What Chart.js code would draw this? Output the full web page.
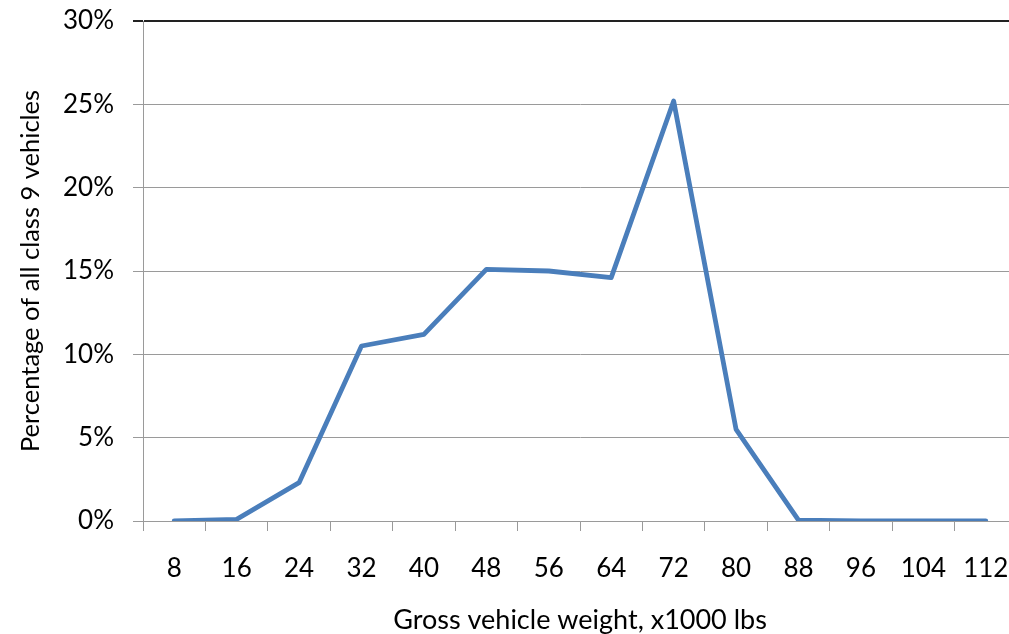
<!DOCTYPE html>
<html>
<head>
<meta charset="utf-8">
<script src="https://cdn.jsdelivr.net/npm/chart.js@4/dist/chart.umd.min.js"></script>
<style>
  html, body { margin: 0; padding: 0; background: #fff; overflow: hidden; }
  #wrap { width: 1017px; height: 634px; }
</style>
</head>
<body>
<div id="wrap"><canvas id="weightChart" width="1017" height="634"></canvas></div>
<script>
// gross vehicle weight bins (x1000 lbs)
const weights = ["8", "16", "24", "32", "40", "48", "56", "64", "72", "80", "88", "96", "104", "112"];
// share of all class 9 vehicles, percent
const shares = [0, 0.1, 2.3, 10.5, 11.2, 15.1, 15.0, 14.6, 25.2, 5.5, 0.05, 0, 0, 0];
const yTicks = [0, 5, 10, 15, 20, 25, 30];

const FONT = "Lato, 'Open Sans', sans-serif";

document.addEventListener("DOMContentLoaded", function() {
    const ctx = document.getElementById("weightChart").getContext('2d');

    new Chart(ctx, {
        type: 'line',
        data: {
            labels: weights,
            datasets: [{
                data: shares,
                borderColor: '#4a7ebb',
                borderWidth: 4.8,
                borderJoinStyle: 'round',
                borderCapStyle: 'round',
                pointRadius: 0,
                tension: 0,
                fill: false
            }]
        },
        options: {
            responsive: false,
            animation: false,
            layout: { padding: { top: 21, right: 0, left: 0, bottom: 0 } },
            plugins: {
                legend: { display: false },
                tooltip: { enabled: false }
            },
            scales: {
                x: {
                    offset: true,
                    grid: {
                        offset: true,
                        drawOnChartArea: false,
                        drawTicks: true,
                        tickLength: 10,
                        color: '#9a9a9a'
                    },
                    border: { display: true, color: '#9a9a9a' },
                    ticks: {
                        color: '#000',
                        font: { family: FONT, size: 26 },
                        padding: 22,
                        maxRotation: 0,
                        autoSkip: false
                    },
                    title: {
                        display: true,
                        text: 'Gross vehicle weight, x1000 lbs',
                        color: '#000',
                        font: { family: FONT, size: 27, lineHeight: 1 },
                        padding: { top: 0, bottom: 0 }
                    },
                    afterFit: function(scale) {
                        scale.height = 113;
                        scale.paddingLeft = 0;
                        scale.paddingRight = 0;
                    }
                },
                y: {
                    min: 0,
                    max: 30,
                    afterBuildTicks: function(scale) {
                        scale.ticks = yTicks.map(v => ({ value: v }));
                    },
                    grid: {
                        color: c => c.tick && c.tick.value === 30 ? '#222' : '#9a9a9a',
                        lineWidth: c => c.tick && c.tick.value === 30 ? 2 : 1,
                        tickLength: 10
                    },
                    border: { display: true, color: '#9a9a9a' },
                    ticks: {
                        color: '#000',
                        font: { family: FONT, size: 26 },
                        padding: 19,
                        callback: v => v + '%'
                    },
                    title: {
                        display: true,
                        text: 'Percentage of all class 9 vehicles',
                        color: '#000',
                        font: { family: FONT, size: 25.5, lineHeight: 1 },
                        padding: { top: 18, bottom: 0 }
                    },
                    afterFit: function(scale) {
                        scale.width = 143;
                        scale.paddingTop = 0;
                        scale.paddingBottom = 0;
                    }
                }
            }
        }
    });
});
</script>
</body>
</html>
